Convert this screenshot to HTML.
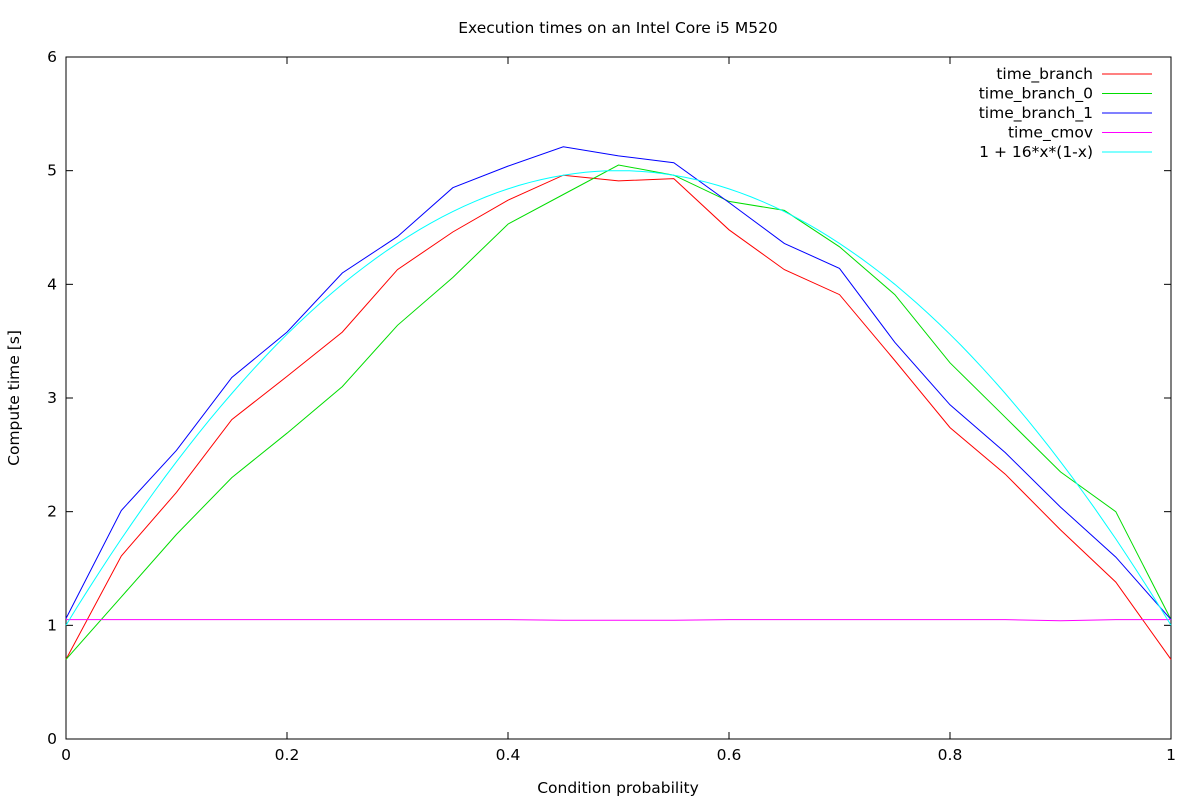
<!DOCTYPE html>
<html><head><meta charset="utf-8"><style>
body{margin:0;background:#fff}
svg{display:block;font-family:"DejaVu Sans","Liberation Sans",sans-serif;font-size:15.5px}
</style></head><body>
<svg id="chart" width="1200" height="800">
<rect width="1200" height="800" fill="#fff"/>
<text x="618" y="33" text-anchor="middle">Execution times on an Intel Core i5 M520</text>
<text x="618" y="793" text-anchor="middle">Condition probability</text>
<text transform="translate(19,398) rotate(-90)" text-anchor="middle">Compute time [s]</text>
<g id="axes"></g>
<g id="series"></g>
<g id="legend"></g>
</svg>
<script>
const xTicks=[0,0.2,0.4,0.6,0.8,1];
const xTickLabels=["0","0.2","0.4","0.6","0.8","1"];
const yTicks=[0,1,2,3,4,5,6];
const yTickLabels=["0","1","2","3","4","5","6"];
const xs=[0,0.05,0.1,0.15,0.2,0.25,0.3,0.35,0.4,0.45,0.5,0.55,0.6,0.65,0.7,0.75,0.8,0.85,0.9,0.95,1];
const timeBranch=[0.70,1.61,2.17,2.81,3.19,3.58,4.13,4.46,4.74,4.96,4.91,4.93,4.48,4.13,3.91,3.33,2.74,2.33,1.84,1.38,0.70];
const timeBranch0=[0.70,1.25,1.80,2.30,2.69,3.10,3.64,4.06,4.53,4.79,5.05,4.96,4.73,4.65,4.33,3.91,3.31,2.83,2.35,2.00,1.05];
const timeBranch1=[1.06,2.01,2.54,3.18,3.58,4.10,4.42,4.85,5.04,5.21,5.13,5.07,4.72,4.36,4.14,3.49,2.94,2.52,2.04,1.60,1.05];
const timeCmov=[1.05,1.05,1.05,1.05,1.05,1.05,1.05,1.05,1.05,1.045,1.045,1.045,1.05,1.05,1.05,1.05,1.05,1.05,1.04,1.05,1.05];
const seriesNames=["time_branch","time_branch_0","time_branch_1","time_cmov","1 + 16*x*(1-x)"];
const seriesColors=["#ff0000","#00dd00","#0000ff","#ff00ff","#00ffff"];
const X0=66,X1=1171,Y0=739,Y1=57;
const sx=v=>X0+(X1-X0)*v, sy=v=>Y0-(Y0-Y1)*v/6;
const NS="http://www.w3.org/2000/svg";
function mk(t,a,p){const e=document.createElementNS(NS,t);for(const k in a)e.setAttribute(k,a[k]);p.appendChild(e);return e;}
const axes=document.getElementById('axes');
const frame=mk('rect',{x:X0,y:Y1,width:X1-X0,height:Y0-Y1,fill:'none',stroke:'#000'},axes);


xTicks.forEach((v,i)=>{const x=sx(v);
 mk('line',{x1:x,y1:Y0,x2:x,y2:Y0-7,stroke:'#000'},axes);
 mk('line',{x1:x,y1:Y1,x2:x,y2:Y1+7,stroke:'#000'},axes);
 const t=mk('text',{x:x,y:Y0+21,'text-anchor':'middle'},axes);t.textContent=xTickLabels[i];
 
 });
yTicks.forEach((v,i)=>{const y=sy(v);
 mk('line',{x1:X0,y1:y,x2:X0+7,y2:y,stroke:'#000'},axes);
 mk('line',{x1:X1,y1:y,x2:X1-7,y2:y,stroke:'#000'},axes);
 const t=mk('text',{x:X0-9,y:y+5,'text-anchor':'end'},axes);t.textContent=yTickLabels[i];
 
 });
const ser=document.getElementById('series');
const fx=[],fy=[];for(let i=0;i<=100;i++){const x=i/100;fx.push(x);fy.push(1+16*x*(1-x));}
const data=[[xs,timeBranch],[xs,timeBranch0],[xs,timeBranch1],[xs,timeCmov],[fx,fy]];
const slugs=["time-branch-line","time-branch-0-line","time-branch-1-line","time-cmov-line","quadratic-fit-line"];
data.forEach((d,i)=>{const pts=d[0].map((x,j)=>sx(x).toFixed(1)+','+sy(d[1][j]).toFixed(1)).join(' ');
 const p=mk('polyline',{points:pts,fill:'none',stroke:seriesColors[i],'stroke-width':1},ser);
 
 });
const lg=document.getElementById('legend');
seriesNames.forEach((n,i)=>{const y=74+i*19.5;
 const t=mk('text',{x:1093,y:y+5,'text-anchor':'end'},lg);t.textContent=n;
 
 
 mk('line',{x1:1102,y1:y,x2:1152,y2:y,stroke:seriesColors[i]},lg);});
</script>
</body></html>
